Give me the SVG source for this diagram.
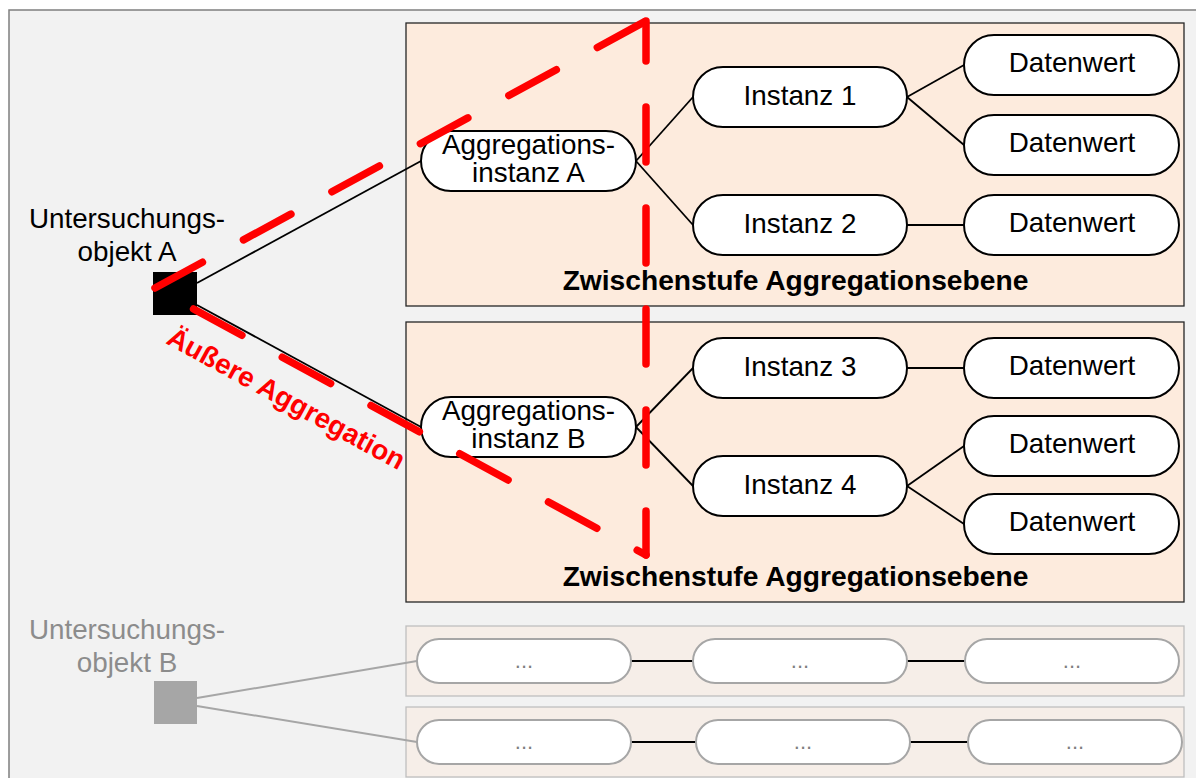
<svg xmlns="http://www.w3.org/2000/svg" width="1196" height="778" viewBox="0 0 1196 778">
<style>
text{font-family:"Liberation Sans",Arial,sans-serif;}
.bg{fill:#f2f2f2;stroke:#7f7f7f;stroke-width:1.5}
.panel{fill:#fdebdd;stroke:#262626;stroke-width:1.3}
.gpanel{fill:#f6eee8;stroke:#bfbfbf;stroke-width:1.3}
.node{fill:#fff;stroke:#000;stroke-width:2}
.gnode{fill:#fff;stroke:#a6a6a6;stroke-width:2}
.t{font-size:27.8px;fill:#000;text-anchor:middle}
.gt{font-size:27.8px;fill:#8c8c8c;text-anchor:middle}
.dots{font-size:22px;fill:#7f7f7f;text-anchor:middle}
.title{font-size:28.2px;font-weight:bold;fill:#000;text-anchor:middle}
.c{stroke:#000;stroke-width:1.8;fill:none}
.gc{stroke:#a6a6a6;stroke-width:2;fill:none}
.red{stroke:#ff0000;stroke-width:7.5;stroke-linecap:round;fill:none}
</style>
<rect class="bg" x="9" y="10" width="1200" height="800"/>
<g id="panel-1"><rect class="panel" x="406" y="23" width="778" height="283"/><text class="title" x="795.5" y="290">Zwischenstufe Aggregationsebene</text></g>
<g id="panel-2"><rect class="panel" x="406" y="322" width="778" height="280"/><text class="title" x="795.5" y="586">Zwischenstufe Aggregationsebene</text></g>
<g id="panel-3"><rect class="gpanel" x="406" y="626" width="778" height="70"/></g>
<g id="panel-4"><rect class="gpanel" x="406" y="707" width="778" height="70"/></g>
<g id="connectors">
<line class="c" x1="197" y1="283" x2="421" y2="161"/>
<line class="c" x1="197" y1="305" x2="421" y2="427"/>
<line class="c" x1="636" y1="161" x2="693" y2="97"/>
<line class="c" x1="636" y1="161" x2="693" y2="225"/>
<line class="c" x1="907" y1="97" x2="964" y2="65"/>
<line class="c" x1="907" y1="97" x2="964" y2="145"/>
<line class="c" x1="907" y1="225" x2="964" y2="225"/>
<line class="c" x1="636" y1="427" x2="693" y2="368"/>
<line class="c" x1="636" y1="427" x2="693" y2="486"/>
<line class="c" x1="907" y1="368" x2="964" y2="368"/>
<line class="c" x1="907" y1="486" x2="964" y2="446"/>
<line class="c" x1="907" y1="486" x2="964" y2="524"/>
<line class="gc" x1="197" y1="698" x2="417" y2="661"/>
<line class="gc" x1="197" y1="706" x2="417" y2="742"/>
<line class="c" x1="631" y1="661" x2="693" y2="661"/>
<line class="c" x1="907" y1="661" x2="965" y2="661"/>
<line class="c" x1="631" y1="742" x2="696" y2="742"/>
<line class="c" x1="910" y1="742" x2="968" y2="742"/>
</g>
<g id="objekt-a"><rect x="153" y="272" width="44" height="43" fill="#000"/><text class="t" x="127" y="228">Untersuchungs-</text><text class="t" x="127" y="261">objekt A</text></g>
<g id="objekt-b"><rect x="154" y="681" width="43" height="43" fill="#a6a6a6"/><text class="gt" x="127" y="639">Untersuchungs-</text><text class="gt" x="127" y="672">objekt B</text></g>
<g id="agg-a"><rect class="node" x="421" y="131" width="215" height="60" rx="30"/><text class="t" x="528.5" y="154">Aggregations-</text><text class="t" x="528.5" y="182">instanz A</text></g>
<g id="instanz-1"><rect class="node" x="693" y="67" width="214" height="60" rx="30"/><text class="t" x="800" y="104.5">Instanz 1</text></g>
<g id="instanz-2"><rect class="node" x="693" y="195" width="214" height="60" rx="30"/><text class="t" x="800" y="232.5">Instanz 2</text></g>
<g id="dw-1"><rect class="node" x="964" y="35" width="215" height="60" rx="30"/><text class="t" x="1072" y="72">Datenwert</text></g>
<g id="dw-2"><rect class="node" x="964" y="115" width="215" height="60" rx="30"/><text class="t" x="1072" y="152">Datenwert</text></g>
<g id="dw-3"><rect class="node" x="964" y="195" width="215" height="60" rx="30"/><text class="t" x="1072" y="232">Datenwert</text></g>
<g id="agg-b"><rect class="node" x="421" y="397" width="215" height="60" rx="30"/><text class="t" x="528.5" y="420">Aggregations-</text><text class="t" x="528.5" y="448">instanz B</text></g>
<g id="instanz-3"><rect class="node" x="693" y="338" width="214" height="60" rx="30"/><text class="t" x="800" y="375.5">Instanz 3</text></g>
<g id="instanz-4"><rect class="node" x="693" y="456" width="214" height="60" rx="30"/><text class="t" x="800" y="493.5">Instanz 4</text></g>
<g id="dw-4"><rect class="node" x="964" y="338" width="215" height="60" rx="30"/><text class="t" x="1072" y="375">Datenwert</text></g>
<g id="dw-5"><rect class="node" x="964" y="416" width="215" height="60" rx="30"/><text class="t" x="1072" y="453">Datenwert</text></g>
<g id="dw-6"><rect class="node" x="964" y="494" width="215" height="60" rx="30"/><text class="t" x="1072" y="531">Datenwert</text></g>
<g id="g-1-1"><rect class="gnode" x="417" y="639" width="214" height="44" rx="22"/><text class="dots" x="524" y="668">...</text></g>
<g id="g-1-2"><rect class="gnode" x="693" y="639" width="214" height="44" rx="22"/><text class="dots" x="800" y="668">...</text></g>
<g id="g-1-3"><rect class="gnode" x="965" y="639" width="214" height="44" rx="22"/><text class="dots" x="1072" y="668">...</text></g>
<g id="g-2-1"><rect class="gnode" x="417" y="720" width="214" height="44" rx="22"/><text class="dots" x="524" y="749">...</text></g>
<g id="g-2-2"><rect class="gnode" x="696" y="720" width="214" height="44" rx="22"/><text class="dots" x="803" y="749">...</text></g>
<g id="g-2-3"><rect class="gnode" x="968" y="720" width="214" height="44" rx="22"/><text class="dots" x="1075" y="749">...</text></g>
<g id="aeussere-aggregation">
<line class="red" x1="155" y1="288" x2="646" y2="21" stroke-dasharray="54 46.7"/>
<line class="red" x1="646" y1="21" x2="646" y2="555" stroke-dasharray="55 46" stroke-dashoffset="15"/>
<line class="red" x1="646" y1="555" x2="155" y2="288" stroke-dasharray="55 46" stroke-dashoffset="45"/>
<text x="165" y="343" transform="rotate(28.6 165 343)" font-size="27.8" font-weight="bold" fill="#ff0000">Äußere Aggregation</text>
</g>
</svg>
